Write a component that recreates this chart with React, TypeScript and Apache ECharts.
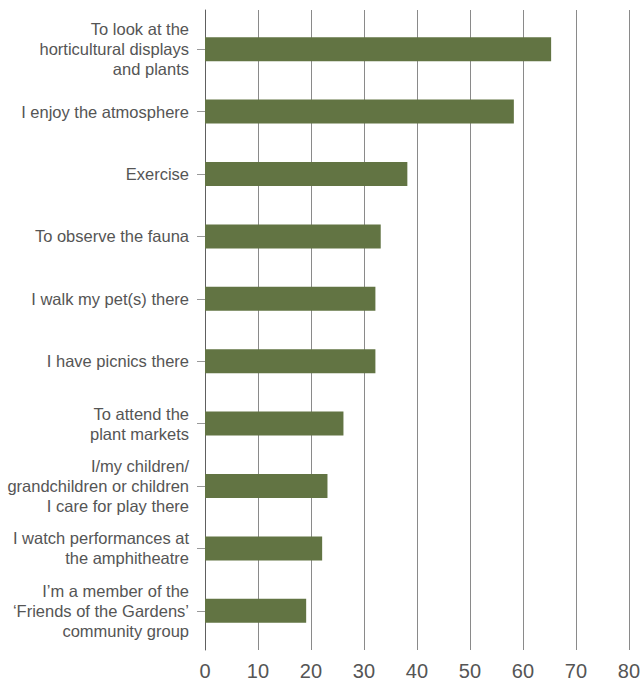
import React, { useEffect, useRef } from "react";
import * as echarts from "echarts";

const categories = [
  "To look at the\nhorticultural displays\nand plants",
  "I enjoy the atmosphere",
  "Exercise",
  "To observe the fauna",
  "I walk my pet(s) there",
  "I have picnics there",
  "To attend the\nplant markets",
  "I/my children/\ngrandchildren or children\nI care for play there",
  "I watch performances at\nthe amphitheatre",
  "I\u2019m a member of the\n\u2018Friends of the Gardens\u2019\ncommunity group",
];
const values = [65, 58, 38, 33, 32, 32, 26, 23, 22, 19];
const xTicks = { min: 0, max: 80, interval: 10 };

const FONT = "Liberation Sans, Arial, Helvetica, sans-serif";

export default function App() {
  const ref = useRef<HTMLDivElement>(null);
  useEffect(() => {
    if (!ref.current) return;
    const chart = echarts.init(ref.current, null, { renderer: "svg" });
    chart.setOption({
      animation: false,
      grid: [
        { left: 205, right: 12, top: 10, bottom: 31, containLabel: false },
        { left: 205, right: 12, top: 18, bottom: 39, containLabel: false },
      ],
      xAxis: [
        {
          gridIndex: 0,
          type: "value",
          min: xTicks.min,
          max: xTicks.max,
          interval: xTicks.interval,
          axisLine: { show: false },
          axisTick: { show: false },
          axisLabel: {
            color: "#555",
            fontSize: 20,
            margin: 11,
            fontFamily: FONT,
          },
          splitLine: { show: true, lineStyle: { color: "#8a8a8a", width: 1 } },
        },
        {
          gridIndex: 1,
          type: "value",
          min: xTicks.min,
          max: xTicks.max,
          interval: xTicks.interval,
          show: false,
        },
      ],
      yAxis: [
        {
          gridIndex: 0,
          type: "value",
          min: 0,
          max: 1,
          axisLine: { show: true, lineStyle: { color: "#606060", width: 1 } },
          axisTick: { show: false },
          axisLabel: { show: false },
          splitLine: { show: false },
        },
        {
          gridIndex: 1,
          type: "category",
          data: categories,
          inverse: true,
          axisLine: { show: false },
          axisTick: { show: true, alignWithLabel: true, length: 8, lineStyle: { color: "#999" } },
          axisLabel: {
            color: "#555",
            fontSize: 16.5,
            lineHeight: 20,
            margin: 16,
            align: "right",
            fontFamily: FONT,
          },
        },
      ],
      series: [
        {
          type: "bar",
          xAxisIndex: 1,
          yAxisIndex: 1,
          data: values,
          barWidth: 24,
          itemStyle: { color: "#627443" },
        },
      ],
    });
    return () => chart.dispose();
  }, []);
  return (
    <div
      ref={ref}
      style={{ position: "absolute", left: 0, top: 0, width: 643, height: 681, background: "#fff" }}
    />
  );
}
